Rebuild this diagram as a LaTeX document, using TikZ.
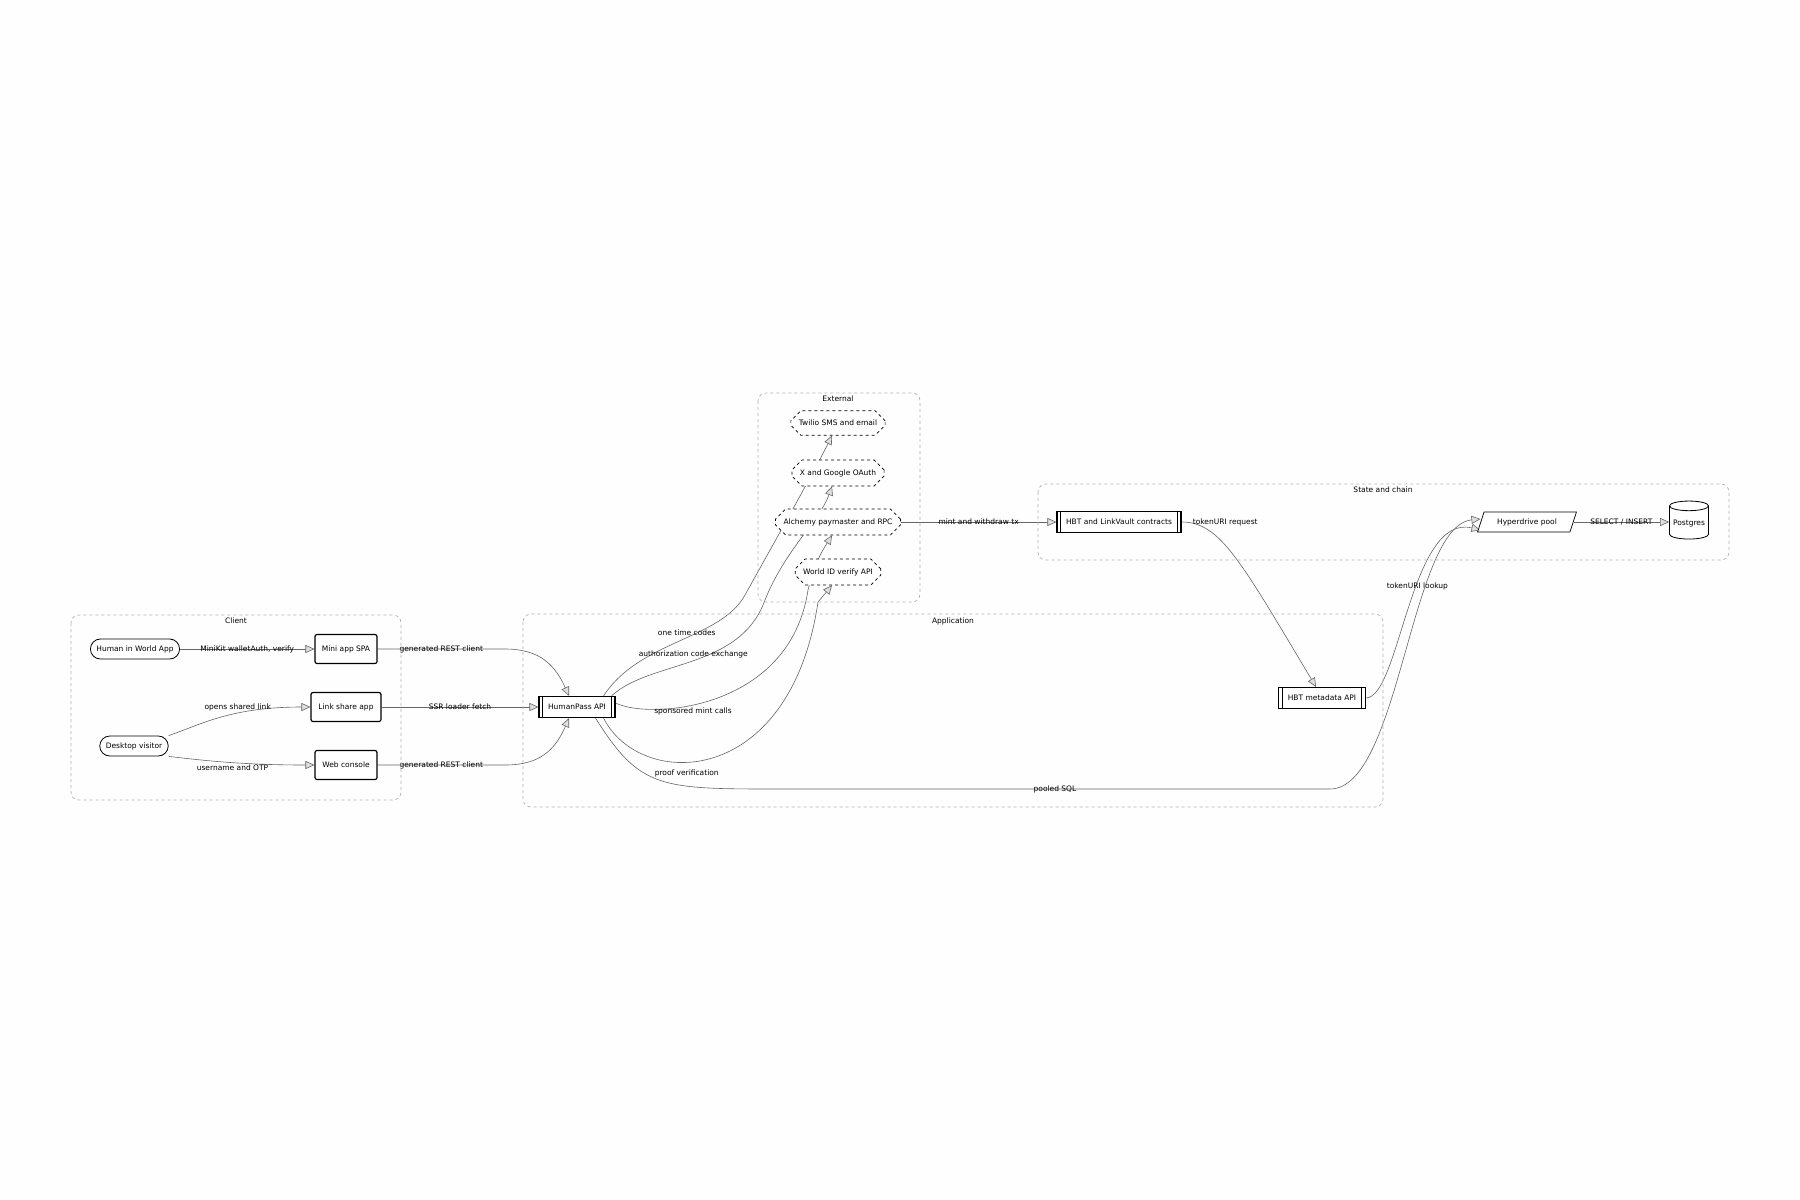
\documentclass[tikz,border=0pt]{standalone}
\usepackage{fontspec}
\setmainfont{DejaVu Sans}
\usetikzlibrary{shapes.misc,shapes.geometric,arrows.meta,backgrounds}
\begin{document}
\begin{tikzpicture}[x=1pt,y=-1pt,font=\fontsize{7.5}{9}\selectfont,
  cluster/.style={draw=gray!60,dashed,rounded corners=8,line width=0.7pt},
  ctitle/.style={font=\fontsize{7.5}{9}\selectfont},
  stadium/.style={draw,rounded corners=10,line width=0.8pt,minimum height=20,inner xsep=6,fill=white},
  box/.style={draw,rounded corners=2,line width=1.2pt,minimum height=29,minimum width=62,fill=white},
  sub/.style={draw,line width=1.2pt,minimum height=21,inner xsep=9,fill=white},
  bars/.style={line width=1pt},
  ext/.style={draw,dashed,chamfered rectangle,chamfered rectangle xsep=4pt,chamfered rectangle ysep=6pt,line width=0.7pt,minimum height=20,fill=white,inner xsep=4},
  edge/.style={draw=gray!80!black,line width=0.6pt,-{Triangle[open,fill=gray!25,length=9pt,width=8pt]}},
  lab/.style={font=\fontsize{7.5}{9}\selectfont}]
\useasboundingbox (0,0) rectangle (1800,1200);
\begin{scope}[on background layer]
\fill[white!99!gray] (0,0) rectangle (1800,1200);
\end{scope}
% clusters
\draw[cluster] (71,615) rectangle (401,800);
\node[ctitle] at (236,621) {Client};
\draw[cluster] (523,614) rectangle (1383,807);
\node[ctitle] at (953,621) {Application};
\draw[cluster] (758,393) rectangle (920,602);
\node[ctitle] at (838,399) {External};
\draw[cluster] (1038,484) rectangle (1729,560);
\node[ctitle] at (1383,490) {State and chain};
% nodes
\node[stadium] (hum) at (135,649) {Human in World App};
\node[stadium] (desk) at (134,746) {Desktop visitor};
\node[box] (mini) at (346,649) {Mini app SPA};
\node[box,minimum width=70] (link) at (346,707) {Link share app};
\node[box] (web) at (346,765) {Web console};
\node[sub] (hp) at (577,707) {HumanPass API};
\node[ext] (tw) at (838,423) {Twilio SMS and email};
\node[ext] (xg) at (838,473) {X and Google OAuth};
\node[ext] (alc) at (838,522) {Alchemy paymaster and RPC};
\node[ext] (wid) at (838,572) {World ID verify API};
\node[sub] (hbt) at (1119,522) {HBT and LinkVault contracts};
\node[sub] (meta) at (1322,698) {HBT metadata API};
\foreach \n in {hp,hbt,meta}{
  \draw[bars] ([xshift=4]\n.north west)--([xshift=4]\n.south west)
              ([xshift=-4]\n.north east)--([xshift=-4]\n.south east);}
\node[draw,trapezium,trapezium left angle=72,trapezium right angle=108,line width=0.7pt,minimum height=20,inner xsep=0,fill=white] (hyp) at (1527,522) {Hyperdrive pool};
\node[draw,cylinder,shape border rotate=90,aspect=0.25,line width=0.8pt,minimum width=39,minimum height=38,fill=white] (pg) at (1689,524) {Postgres};
% edges
\begin{scope}[on background layer]
\draw[edge] (hum.east) -- (mini.west) node[lab,midway] {MiniKit walletAuth, verify};
\draw[edge] (desk.north east) .. controls (200,725) and (230,707) .. (link.west) node[lab,pos=0.62,above=-1] {opens shared link};
\draw[edge] (desk.south east) .. controls (200,760) and (240,765) .. (web.west) node[lab,pos=0.55,below=-1] {username and OTP};
\draw[edge] (mini.east) -- (505,649) node[lab,midway] {generated REST client} .. controls (540,649) and (555,665) .. ([xshift=-8]hp.north);
\draw[edge] (link.east) -- (hp.west) node[lab,midway] {SSR loader fetch};
\draw[edge] (web.east) -- (505,765) node[lab,midway] {generated REST client} .. controls (540,765) and (555,750) .. ([xshift=-8]hp.south);
\draw[edge] ([xshift=-12]hp.north east) .. controls (640,640) and (720,640) .. (745,595) node[lab,pos=0.55,above=-2] {one time codes} .. controls (770,550) and (815,470) .. ([xshift=-6]tw.south);
\draw[edge] ([xshift=-4]hp.north east) .. controls (650,660) and (740,670) .. (765,600) node[lab,pos=0.5,above=-1] {authorization code exchange} .. controls (785,550) and (820,520) .. ([xshift=-6]xg.south);
\draw[edge] ([yshift=4]hp.east) .. controls (650,720) and (790,710) .. (808,590) node[lab,pos=0.4,below=-1] {sponsored mint calls} .. controls (815,560) and (826,545) .. ([xshift=-6]alc.south);
\draw[edge] ([xshift=-12]hp.south east) .. controls (640,790) and (790,790) .. (818,602) node[lab,pos=0.4,below=4] {proof verification} -- ([xshift=-6]wid.south);
\draw[edge] (alc.east) -- (hbt.west) node[lab,midway] {mint and withdraw tx};
\draw[edge] (hbt.east) .. controls (1220,522) and (1240,560) .. ([xshift=-6]meta.north) node[lab,pos=0.05,right=2] {tokenURI request};
\draw[edge] (meta.east) .. controls (1400,698) and (1410,513) .. ([yshift=-8]hyp.west) node[lab,pos=0.58] {tokenURI lookup};
\draw[edge] ([xshift=-20]hp.south east) .. controls (640,789) and (660,789) .. (780,789) -- (1330,789) node[lab,midway] {pooled SQL} .. controls (1400,789) and (1410,526) .. ([yshift=3]hyp.west);
\draw[edge] (hyp.east) -- (hyp.east -| pg.west) node[lab,midway] {SELECT / INSERT};
\end{scope}
\end{tikzpicture}
\end{document}
